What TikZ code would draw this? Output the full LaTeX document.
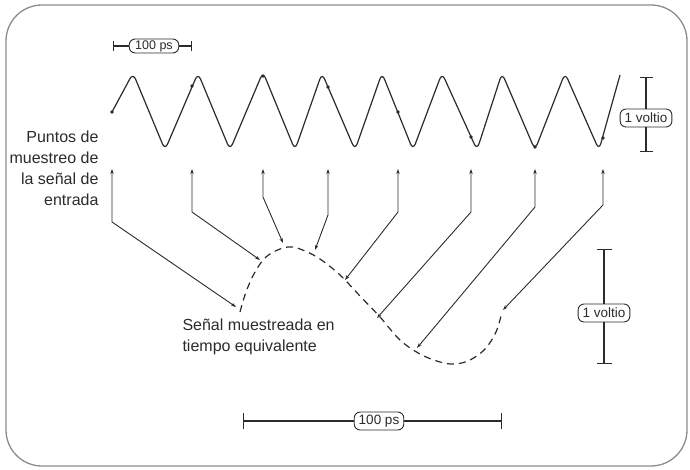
\documentclass[tikz,border=0pt]{standalone}
\usepackage{fontspec}
\setmainfont{Liberation Sans}
\usetikzlibrary{arrows.meta}
\definecolor{ink}{HTML}{2B2B2B}
\definecolor{framegray}{HTML}{8C8C8C}
\begin{document}
\begin{tikzpicture}[x=1pt, y=-1pt,
    wave/.style={ink, line width=1.2pt, rounded corners=6.5pt},
    dot/.style={circle, fill=ink, inner sep=0pt, minimum size=3.8pt},
    samplearrow/.style={ink, line width=0.9pt, {Stealth[length=5pt,width=3.4pt]}-{Stealth[length=5pt,width=3.4pt]}},
    sampled/.style={ink, line width=1.2pt, dash pattern=on 7pt off 5pt},
    scalebar/.style={ink, line width=1.1pt},
    scalebox/.style={draw=ink, line width=0.9pt, rounded corners=6pt, fill=white, text=ink,
        font=\fontsize{13.5}{15}\selectfont, inner xsep=4.5pt, inner ysep=2pt, minimum height=18pt},
    textlbl/.style={text=ink, font=\fontsize{16}{21}\selectfont}]
    \useasboundingbox (0,0) rectangle (690,470);

    % Outer frame
    \draw[framegray, line width=1.3pt, rounded corners=36pt] (6,5) rectangle (687,466);

    % Input signal
    \draw[wave] (112,112) -- (133,73) -- (165,150) -- (198,73) -- (230,150) -- (263,72)
        -- (295,150) -- (322,73) -- (355,150) -- (382,73) -- (413,150) -- (442,73)
        -- (477,150) -- (502,73) -- (535,150) -- (565,73) -- (599,150) -- (620,75);

    % Sample points on the input signal
    \node[dot] (d1) at (112,112) {};
    \node[dot] (d2) at (192,86) {};
    \node[dot] (d3) at (263,76) {};
    \node[dot] (d4) at (328,87) {};
    \node[dot] (d5) at (398,112) {};
    \node[dot] (d6) at (471,137) {};
    \node[dot] (d7) at (535,147) {};
    \node[dot] (d8) at (603,138) {};

    % Equivalent-time signal
    \draw[sampled] plot[smooth, tension=0.6] coordinates {(240,312) (246,292) (255,272)
        (266,257) (280,249) (292,247) (305,251) (320,259) (340,275) (360,296) (380,317)
        (400,340) (420,354) (440,362) (455,364) (470,360) (485,349) (496,332) (502,312)};

    % Arrow tops, bends and ends
    \coordinate (t1) at (112,169); \coordinate (b1) at (112,222); \coordinate (e1) at (236,307);
    \coordinate (t2) at (192,169); \coordinate (b2) at (192,212); \coordinate (e2) at (260,260);
    \coordinate (t3) at (263,169); \coordinate (b3) at (263,197); \coordinate (e3) at (283,243);
    \coordinate (t4) at (328,169); \coordinate (b4) at (328,215); \coordinate (e4) at (315,250);
    \coordinate (t5) at (398,169); \coordinate (b5) at (398,212); \coordinate (e5) at (345,280);
    \coordinate (t6) at (471,169); \coordinate (b6) at (471,212); \coordinate (e6) at (377,318);
    \coordinate (t7) at (535,169); \coordinate (b7) at (535,207); \coordinate (e7) at (417,348);
    \coordinate (t8) at (603,169); \coordinate (b8) at (603,205); \coordinate (e8) at (503,310);

    \draw[samplearrow] (t1) -- (b1) -- (e1);
    \draw[samplearrow] (t2) -- (b2) -- (e2);
    \draw[samplearrow] (t3) -- (b3) -- (e3);
    \draw[samplearrow] (t4) -- (b4) -- (e4);
    \draw[samplearrow] (t5) -- (b5) -- (e5);
    \draw[samplearrow] (t6) -- (b6) -- (e6);
    \draw[samplearrow] (t7) -- (b7) -- (e7);
    \draw[samplearrow] (t8) -- (b8) -- (e8);

    % Texts
    \node[textlbl, align=right, anchor=east] (puntos) at (102,168)
        {Puntos de\\muestreo de\\la señal de\\entrada};
    \node[textlbl, align=left, anchor=west] (senal) at (179,337)
        {Señal muestreada en\\tiempo equivalente};

    % Scale: 100 ps (top)
    \coordinate (pa) at (113,46); \coordinate (pb) at (192,46);
    \node[scalebox, font=\fontsize{12.5}{14}\selectfont, inner xsep=6pt, inner ysep=1pt,
        minimum height=14pt] (ps1) at (154,46) {100 ps};
    \draw[scalebar, {Bar[width=10pt]}-] (pa) -- (ps1);
    \draw[scalebar, -{Bar[width=10pt]}] (ps1) -- (pb);

    % Scale: 1 voltio (top right)
    \coordinate (va) at (646,77); \coordinate (vb) at (646,152);
    \node[scalebox] (v1) at (646,118) {1 voltio};
    \draw[scalebar, {Bar[width=13pt]}-] (va) -- (v1);
    \draw[scalebar, -{Bar[width=13pt]}] (v1) -- (vb);

    % Scale: 1 voltio (lower)
    \coordinate (wa) at (604,249); \coordinate (wb) at (604,364);
    \node[scalebox] (v2) at (604,313) {1 voltio};
    \draw[scalebar, {Bar[width=15pt]}-] (wa) -- (v2);
    \draw[scalebar, -{Bar[width=15pt]}] (v2) -- (wb);

    % Scale: 100 ps (bottom)
    \coordinate (qa) at (243,421); \coordinate (qb) at (502,421);
    \node[scalebox] (ps2) at (379,421) {100 ps};
    \draw[scalebar, {Bar[width=16pt]}-] (qa) -- (ps2);
    \draw[scalebar, -{Bar[width=16pt]}] (ps2) -- (qb);
\end{tikzpicture}
\end{document}
